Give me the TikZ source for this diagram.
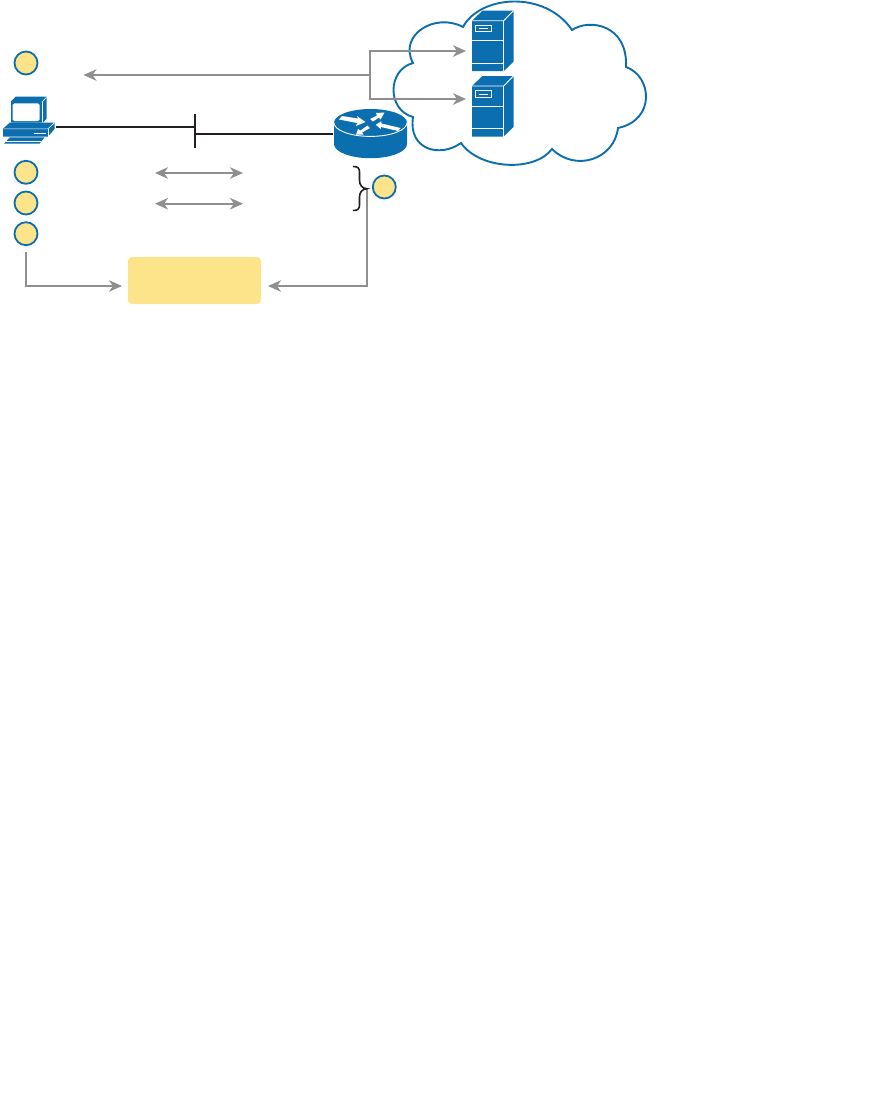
\documentclass[tikz,border=0pt]{standalone}
\usetikzlibrary{arrows.meta}
\definecolor{ciscoblue}{HTML}{0B6EAE}
\definecolor{padyellow}{HTML}{FDE38A}
\definecolor{flowgray}{HTML}{8F8F8F}
\definecolor{inkblack}{HTML}{231F20}
\tikzset{
  badge/.style={circle,draw=ciscoblue,fill=padyellow,line width=1.8pt,minimum size=23pt,inner sep=0pt},
  panel/.style={rectangle,rounded corners=4pt,fill=padyellow,minimum width=133pt,minimum height=47pt,inner sep=0pt},
  flow/.style={draw=flowgray,line width=1.9pt},
  flowtip/.style={flow,-{Stealth[length=13pt,width=11.5pt,inset=4pt]}},
  flowboth/.style={flow,{Stealth[length=13pt,width=11.5pt,inset=4pt]}-{Stealth[length=13pt,width=11.5pt,inset=4pt]}},
  wire/.style={draw=inkblack,line width=1.6pt},
  whiteline/.style={draw=white,line width=0.9pt},
  thinwhite/.style={draw=white,line width=0.6pt},
  pics/serverbox/.style={code={
    \fill[ciscoblue] (0,0) -- (10.5,-10) -- (41.5,-10) -- (41.5,41) -- (31.7,50.5) -- (0,50.5) -- cycle;
    \draw[whiteline] (0,0) -- (31.7,0) -- (41.5,-10);
    \draw[whiteline] (31.7,0) -- (31.7,50.5);
    \draw[whiteline] (0,20) -- (31.7,20);
    \draw[whiteline] (0,42.7) -- (31.7,42.7);
    \draw[whiteline] (3.5,4.8) rectangle (19.7,11);
    \draw[whiteline] (7.3,8) -- (15.5,8);
  }},
  routerarrow/.style={fill=white,draw=none}
}
\begin{document}
\begin{tikzpicture}[x=1pt,y=-1pt]
\useasboundingbox (0,0) rectangle (894,1120);
% cloud
\draw[ciscoblue,line width=1.9pt,fill=white]
  (463,27) .. controls (480,-5) and (545,-10) .. (572,30)
  .. controls (590,18) and (628,25) .. (626,67)
  .. controls (652,76) and (656,120) .. (618,128)
  .. controls (614,160) and (575,172) .. (552,149)
  .. controls (535,172) and (480,170) .. (461,143)
  .. controls (440,158) and (408,150) .. (413,117)
  .. controls (387,110) and (387,70) .. (413,63)
  .. controls (398,35) and (435,12) .. (463,27) -- cycle;
% servers
\pic at (472,20.7) {serverbox};
\pic at (472,86) {serverbox};
% router
\fill[ciscoblue] (334,122.7) -- (334,144)
  .. controls (334,151.8) and (350.3,158.2) .. (370.5,158.2)
  .. controls (390.7,158.2) and (407,151.8) .. (407,144) -- (407,122.7) -- cycle;
\fill[ciscoblue] (370.5,122.7) ellipse[x radius=36.5,y radius=13.7];
\draw[whiteline] (334,122.7) .. controls (334,130.3) and (350.3,136.4) .. (370.5,136.4)
  .. controls (390.7,136.4) and (407,130.3) .. (407,122.7);
\fill[routerarrow] (339,119.5) -- (342,116) -- (358,118.5) -- (357,116) -- (365.5,122) -- (356,126) -- (357,123) -- cycle;
\fill[routerarrow] (375.7,124.7) -- (381.3,121.3) -- (381.5,123.5) -- (400.5,128) -- (398,131) -- (381,127) -- (380.7,129) -- cycle;
\fill[routerarrow] (370,119) -- (377,115.5) -- (376,113) -- (384.5,112.5) -- (380.5,119.5) -- (379,117.5) -- (373,121.5) -- cycle;
\fill[routerarrow] (356,134.7) -- (358,129) -- (360.5,130.5) -- (367.5,125.5) -- (370,128) -- (362,132.5) -- (363.5,134.5) -- cycle;
% PC
\fill[ciscoblue] (11,122.7) -- (11,101.3) -- (15.7,96.7) -- (46.7,96.7) -- (46.7,118.5) -- (43,122.7) -- cycle;
\fill[white,rounded corners=1.5pt] (12.7,103.3) rectangle (39.5,121);
\draw[thinwhite] (42,102) -- (42,122.5);
\draw[thinwhite] (42,102) -- (46.7,97);
\fill[ciscoblue] (3.2,128.5) -- (10,122.5) -- (54.5,122.5) -- (54.5,129) -- (48,136.7) -- (3.2,136.7) -- cycle;
\draw[thinwhite] (3.4,128.8) -- (48,128.8) -- (54.5,122.7);
\draw[thinwhite] (48,128.8) -- (48,136.7);
\draw[thinwhite] (34,133.3) -- (46,133.3);
\fill[ciscoblue] (4,143.7) -- (10,137.3) -- (44.5,137.3) -- (39.5,143.7) -- cycle;
\draw[thinwhite] (4,141.7) -- (41,141.7);
% named anchors
\node[badge] (b1) at (26,63) {};
\node[badge] (b2) at (26,172.3) {};
\node[badge] (b3) at (26,203) {};
\node[badge] (b4) at (26,233.7) {};
\node[badge] (b5) at (384.3,187) {};
\node[panel] (box) at (194.5,280.5) {};
\coordinate (pcport) at (56,127);
\coordinate (teetop) at (195,114);
\coordinate (teebot) at (195,147.7);
\coordinate (teemid) at (195,134);
\coordinate (routerport) at (333,134);
\coordinate (split) at (370,75);
\coordinate (splittop) at (370,51);
\coordinate (splitbot) at (370,99);
\coordinate (srv1) at (466,51);
\coordinate (srv2) at (466,99);
\coordinate (farleft) at (83.5,75);
\coordinate (la) at (155,173);
\coordinate (ra) at (243,173);
\coordinate (lb) at (155,203.7);
\coordinate (rb) at (243,203.7);
\coordinate (startl) at (26,251.7);
\coordinate (cornl) at (26,286);
\coordinate (boxl) at (122,286);
\coordinate (startr) at (367,188);
\coordinate (cornr) at (367,286);
\coordinate (boxr) at (268,286);
% connectors
\draw[wire] (pcport) -- (teemid |- pcport);
\draw[wire] (teetop) -- (teebot);
\draw[wire] (teemid) -- (routerport);
\draw[flowtip] (split) -- (farleft);
\draw[flow,line cap=rect] (splittop) -- (splitbot);
\draw[flowtip] (splittop) -- (srv1);
\draw[flowtip] (splitbot) -- (srv2);
\draw[flowboth] (la) -- (ra);
\draw[flowboth] (lb) -- (rb);
\draw[flowtip] (startl) -- (cornl) -- (boxl);
\draw[flowtip] (startr) -- (cornr) -- (boxr);
% brace
\draw[inkblack,line width=1.6pt,line cap=round]
  (353.5,166.5) .. controls (358,166.5) and (359.5,168.5) .. (359.5,172)
  -- (359.5,180) .. controls (359.5,185) and (362,188.5) .. (367,188.7)
  .. controls (362,189) and (359.5,192.5) .. (359.5,197)
  -- (359.5,205) .. controls (359.5,208.5) and (358,210.5) .. (353.5,210.5);
\end{tikzpicture}
\end{document}
